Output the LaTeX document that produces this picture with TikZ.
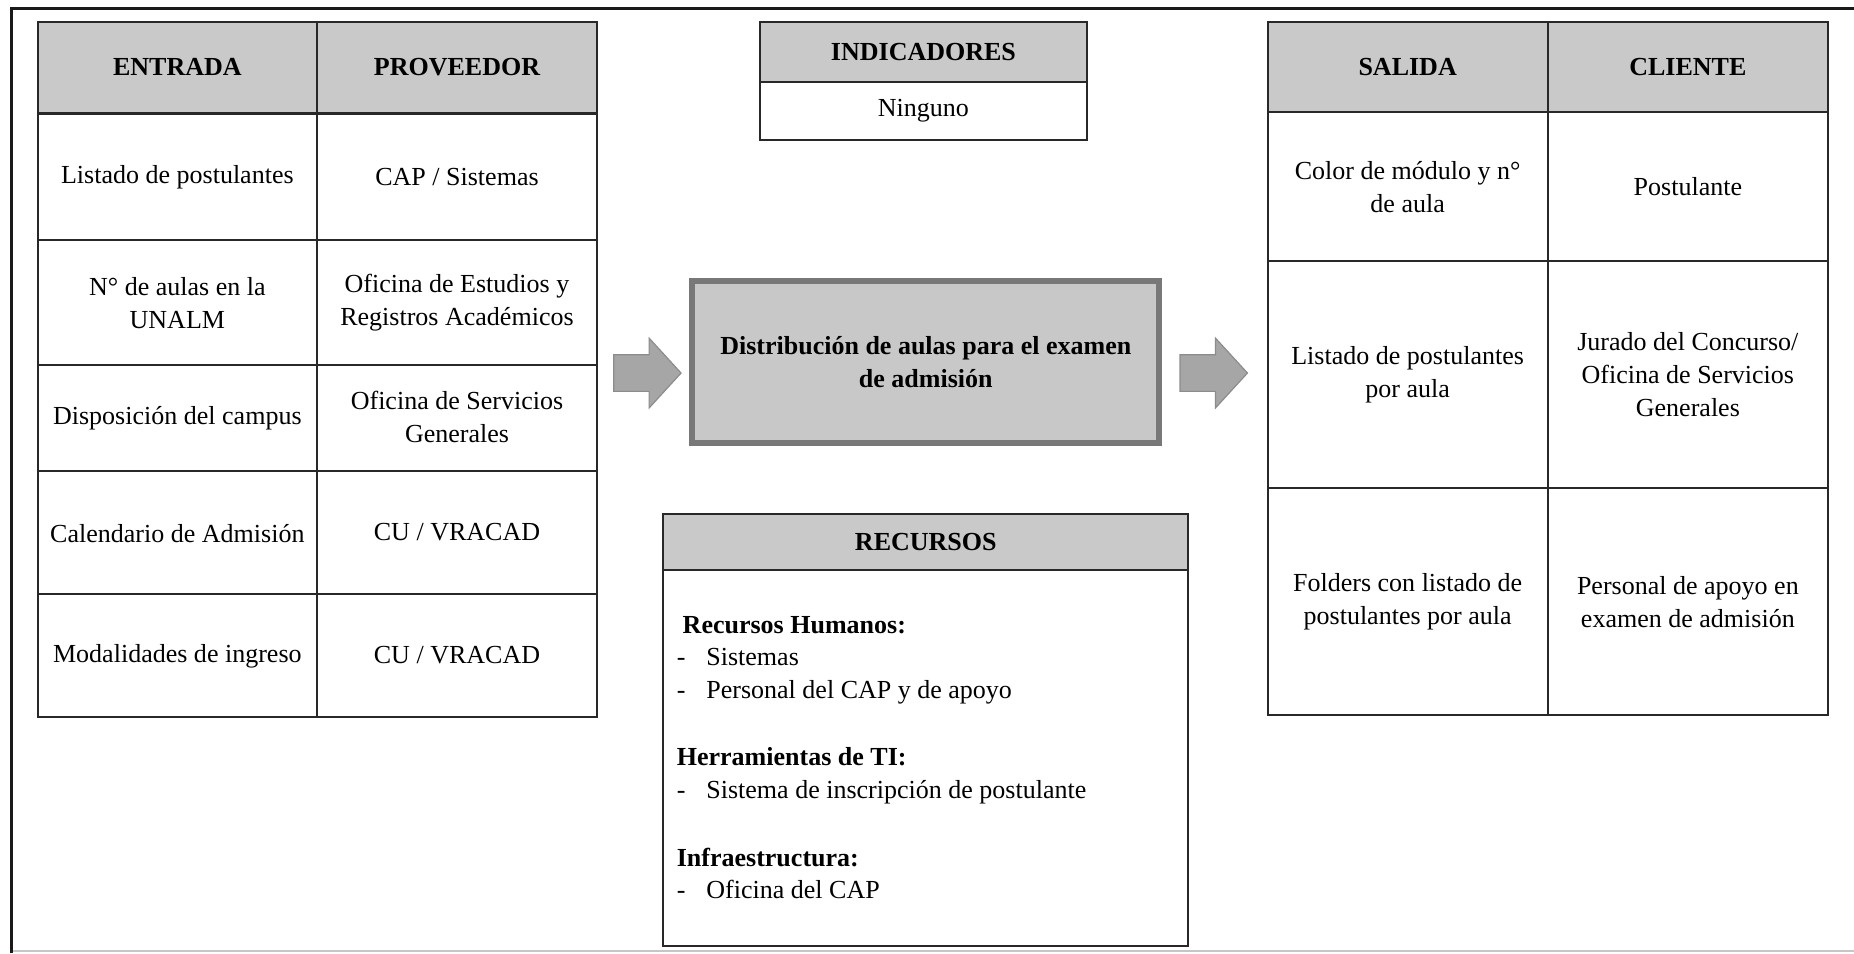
\documentclass[tikz,border=0pt]{standalone}
\usepackage{fontspec}
\setmainfont{Liberation Serif}
\definecolor{hdrgray}{RGB}{201,201,201}
\definecolor{procfill}{RGB}{200,200,200}
\definecolor{procline}{RGB}{120,120,120}
\definecolor{arrfill}{RGB}{166,166,166}
\definecolor{arrline}{RGB}{140,140,140}
\definecolor{rulegray}{RGB}{40,40,40}
\begin{document}
\begin{tikzpicture}[x=0.5pt,y=-0.5pt,
  grid/.style={draw=rulegray,line width=0.85pt},
  txt/.style={font=\fontsize{11pt}{14pt}\selectfont,align=center,inner sep=0pt},
  hdr/.style={txt,font=\fontsize{11pt}{14pt}\selectfont\bfseries},
  item/.style={font=\fontsize{11pt}{14pt}\selectfont,anchor=west,inner sep=0pt,text height=8.5pt,text depth=2pt},
  itemb/.style={item,font=\fontsize{11pt}{14pt}\selectfont\bfseries},
  blockarrow/.style={fill=arrfill,draw=arrline,line width=0.5pt},
  process/.style={draw=procline,fill=procfill,line width=2.5pt,
    minimum width=197.5pt,minimum height=68.5pt,
    font=\fontsize{11pt}{14pt}\selectfont\bfseries,align=center}
]
\useasboundingbox (0,0) rectangle (1568,806);

% page frame
\draw[gray!45,line width=1pt] (9.5,804.5) -- (1568,804.5);
\draw[black!90,line width=1.2pt] (9.5,806) -- (9.5,7) -- (1568,7);

% ---- ENTRADA / PROVEEDOR table ----
\fill[hdrgray] (32,19) rectangle (505,96);
\foreach \y in {96,203,309,398,502} \draw[grid] (32,\y) -- (505,\y);
\draw[grid] (268,19) -- (268,606);
\draw[grid] (32,19) rectangle (505,606);

\node[hdr] (entrada) at (150,57) {ENTRADA};
\node[hdr] (proveedor) at (386.5,57) {PROVEEDOR};
\node[txt] (e1) at (150,150) {Listado de postulantes};
\node[txt] (p1) at (386.5,150) {CAP / Sistemas};
\node[txt] (e2) at (150,256) {N° de aulas en la\\UNALM};
\node[txt] (p2) at (386.5,256) {Oficina de Estudios y\\Registros Académicos};
\node[txt] (e3) at (150,354) {Disposición del campus};
\node[txt] (p3) at (386.5,353) {Oficina de Servicios\\Generales};
\node[txt] (e4) at (150,451) {Calendario de Admisión};
\node[txt] (p4) at (386.5,450) {CU / VRACAD};
\node[txt] (e5) at (150,555) {Modalidades de ingreso};
\node[txt] (p5) at (386.5,554) {CU / VRACAD};

% ---- INDICADORES ----
\fill[hdrgray] (643,19) rectangle (919,69);
\draw[grid] (643,69) -- (919,69);
\draw[grid] (643,19) rectangle (919,118);
\node[hdr] (indic) at (781,44) {INDICADORES};
\node[txt] (ninguno) at (781,94) {Ninguno};

% ---- process ----
\node[process] (proc) at (783,306) {Distribución de aulas para el examen\\de admisión};

% block arrows
\filldraw[blockarrow] (519,300) -- (549,300) -- (549,286) -- (576,315.5)
  -- (549,345) -- (549,331) -- (519,331) -- cycle;
\filldraw[blockarrow] (998,300) -- (1028,300) -- (1028,286) -- (1055,315.5)
  -- (1028,345) -- (1028,331) -- (998,331) -- cycle;

% ---- RECURSOS ----
\fill[hdrgray] (561,435) rectangle (1005,482);
\draw[grid] (561,482) -- (1005,482);
\draw[grid] (561,435) rectangle (1005,800);
\node[hdr] (recursos) at (783,458) {RECURSOS};
\node[itemb] (rh) at (577,529) {Recursos Humanos:};
\node[item] (d1) at (572,556) {-};
\node[item] (r1) at (597,556) {Sistemas};
\node[item] (d2) at (572,584) {-};
\node[item] (r2) at (597,584) {Personal del CAP y de apoyo};
\node[itemb] (ti) at (572,641) {Herramientas de TI:};
\node[item] (d3) at (572,669) {-};
\node[item] (r3) at (597,669) {Sistema de inscripción de postulante};
\node[itemb] (inf) at (572,726) {Infraestructura:};
\node[item] (d4) at (572,753) {-};
\node[item] (r4) at (597,753) {Oficina del CAP};

% ---- SALIDA / CLIENTE table ----
\fill[hdrgray] (1072,19) rectangle (1546,95);
\foreach \y in {95,221,413} \draw[grid] (1072,\y) -- (1546,\y);
\draw[grid] (1309,19) -- (1309,605);
\draw[grid] (1072,19) rectangle (1546,605);

\node[hdr] (salida) at (1190.5,57) {SALIDA};
\node[hdr] (cliente) at (1427.5,57) {CLIENTE};
\node[txt] (s1) at (1190.5,158) {Color de módulo y n°\\de aula};
\node[txt] (c1) at (1427.5,158) {Postulante};
\node[txt] (s2) at (1190.5,317) {Listado de postulantes\\por aula};
\node[txt] (c2) at (1427.5,317) {Jurado del Concurso/\\Oficina de Servicios\\Generales};
\node[txt] (s3) at (1190.5,509) {Folders con listado de\\postulantes por aula};
\node[txt] (c3) at (1427.5,509) {Personal de apoyo en\\examen de admisión};
\end{tikzpicture}
\end{document}
